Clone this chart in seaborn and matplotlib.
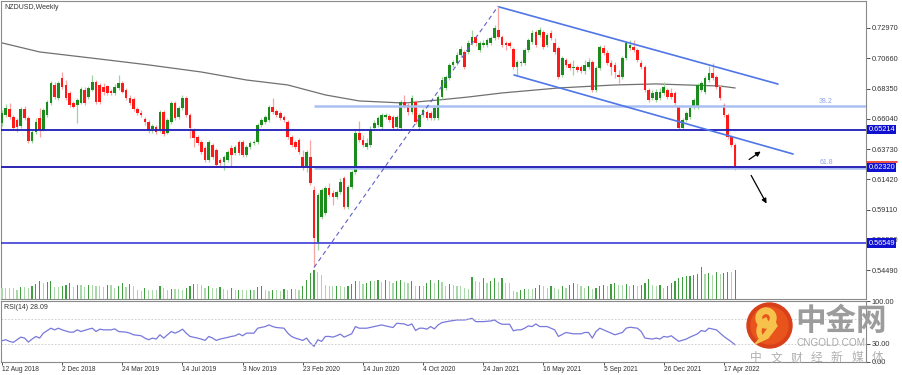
import matplotlib
matplotlib.use("Agg")
import matplotlib.pyplot as plt
import seaborn as sns
from matplotlib.patches import Circle, Wedge, Polygon

sns.set_style("white")
plt.rcParams["font.family"] = ["Liberation Sans", "Noto Sans CJK SC", "DejaVu Sans"]

TITLE = "NZDUSD,Weekly"
RSI_LABEL = "RSI(14) 28.09"

# weekly candles, first bar = week of 12 Aug 2018
opens = [
    .6572, .6633, .6679, .6618, .6595, .6549, .6679, .6610, .6434, .6503,
    .6610, .6518, .6633, .6724, .6862, .6763, .6915, .6862, .6801, .6724,
    .6709, .6724, .6824, .6770, .6824, .6885, .6862, .6847, .6854, .6816,
    .6801, .6839, .6877, .6824, .6763, .6755, .6679, .6648, .6602, .6579,
    .6526, .6541, .6518, .6656, .6495, .6579, .6724, .6618, .6686, .6763,
    .6633, .6518, .6465, .6427, .6381, .6289, .6404, .6366, .6289, .6274,
    .6289, .6381, .6343, .6427, .6427, .6327, .6389, .6419, .6427, .6556,
    .6579, .6595, .6694, .6663, .6648, .6618, .6579, .6465, .6427, .6442,
    .6312, .6236, .6312, .6059, .5663, .5854, .5885, .6075, .6037, .6007,
    .6045, .6152, .5930, .6083, .6198, .6495, .6442, .6389, .6404, .6534,
    .6556, .6541, .6618, .6625, .6618, .6541, .6534, .6732, .6709, .6656,
    .6732, .6541, .6633, .6656, .6648, .6610, .6610, .6770, .6839, .6915,
    .7015, .7030, .7091, .7114, .7114, .7183, .7228, .7129, .7167, .7167,
    .7183, .7221, .7282, .7228, .7183, .7183, .7137, .6999, .7030, .7030,
    .7129, .7190, .7267, .7244, .7267, .7167, .7259, .7183, .7145, .6938,
    .7053, .7022, .6992, .6999, .6999, .6969, .6999, .7038, .6824, .6992,
    .7145, .7106, .7030, .7015, .6938, .6923, .7068, .7145, .7152, .7129,
    .7030, .6999, .6824, .6763, .6747, .6763, .6801, .6824, .6801, .6801,
    .6694, .6534, .6595, .6618, .6694, .6694, .6824, .6808, .6900, .6954,
    .6923, .6847, .6709, .6633, .6465, .6404,
]
highs = [
    .6671, .6717, .6724, .6633, .6610, .6694, .6702, .6625, .6518, .6610,
    .6686, .6686, .6747, .6892, .6885, .6892, .6961, .6900, .6816, .6740,
    .6763, .6847, .6847, .6854, .6938, .6900, .6877, .6877, .6862, .6831,
    .6870, .6938, .6892, .6839, .6786, .6770, .6694, .6671, .6618, .6595,
    .6564, .6556, .6671, .6671, .6610, .6740, .6740, .6702, .6786, .6778,
    .6648, .6534, .6480, .6442, .6396, .6442, .6419, .6381, .6305, .6327,
    .6366, .6404, .6404, .6442, .6442, .6404, .6434, .6442, .6572, .6610,
    .6633, .6709, .6763, .6679, .6663, .6633, .6595, .6480, .6442, .6457,
    .6366, .6366, .6442, .6091, .6037, .6075, .6091, .6114, .6059, .6059,
    .6152, .6167, .6098, .6213, .6518, .6587, .6480, .6457, .6549, .6595,
    .6625, .6648, .6648, .6640, .6633, .6633, .6747, .6786, .6724, .6786,
    .6747, .6648, .6686, .6671, .6663, .6709, .6786, .6923, .6938, .7030,
    .7053, .7114, .7160, .7129, .7206, .7282, .7244, .7198, .7206, .7221,
    .7236, .7320, .7458, .7244, .7198, .7198, .7152, .7053, .7053, .7145,
    .7221, .7282, .7282, .7305, .7282, .7259, .7282, .7221, .7160, .7083,
    .7068, .7038, .7053, .7015, .7015, .7053, .7068, .7053, .7007, .7167,
    .7167, .7129, .7053, .7038, .6977, .7083, .7198, .7206, .7206, .7145,
    .7053, .7015, .6839, .6824, .6831, .6839, .6885, .6839, .6839, .6816,
    .6709, .6610, .6663, .6702, .6763, .6877, .6892, .6931, .7007, .7030,
    .6938, .6862, .6724, .6648, .6480, .6419,
]
lows = [
    .6549, .6618, .6602, .6518, .6503, .6534, .6595, .6419, .6419, .6488,
    .6465, .6511, .6618, .6709, .6755, .6747, .6831, .6747, .6694, .6686,
    .6572, .6717, .6709, .6755, .6816, .6717, .6717, .6786, .6786, .6786,
    .6786, .6824, .6801, .6747, .6709, .6663, .6633, .6618, .6556, .6495,
    .6495, .6488, .6503, .6472, .6488, .6564, .6595, .6602, .6671, .6618,
    .6457, .6389, .6404, .6335, .6274, .6274, .6297, .6243, .6243, .6213,
    .6274, .6236, .6327, .6327, .6312, .6312, .6373, .6404, .6411, .6541,
    .6564, .6579, .6640, .6618, .6595, .6579, .6450, .6389, .6373, .6335,
    .6213, .6198, .6098, .5472, .5602, .5839, .5869, .6007, .5946, .5991,
    .6030, .5915, .5915, .6068, .6182, .6427, .6389, .6373, .6389, .6518,
    .6541, .6526, .6602, .6579, .6518, .6526, .6518, .6686, .6633, .6640,
    .6564, .6526, .6618, .6595, .6595, .6595, .6595, .6755, .6824, .6900,
    .6999, .7015, .7076, .6984, .7099, .7167, .7160, .7114, .7152, .7152,
    .7167, .7206, .7213, .7152, .7129, .7145, .6984, .6938, .7007, .7015,
    .7114, .7175, .7152, .7228, .7137, .7152, .7206, .7099, .6908, .6923,
    .6999, .6977, .6938, .6961, .6954, .6946, .6984, .6808, .6808, .6977,
    .7091, .7015, .6938, .6915, .6877, .6908, .7053, .7129, .7114, .7038,
    .6984, .6808, .6732, .6747, .6732, .6747, .6786, .6755, .6755, .6709,
    .6526, .6526, .6579, .6602, .6679, .6679, .6808, .6793, .6885, .6900,
    .6831, .6747, .6618, .6450, .6389, .6213,
]
closes = [
    .6648, .6686, .6618, .6534, .6541, .6679, .6610, .6434, .6503, .6579,
    .6518, .6671, .6732, .6877, .6770, .6877, .6847, .6763, .6709, .6694,
    .6747, .6831, .6724, .6839, .6885, .6732, .6732, .6808, .6801, .6801,
    .6847, .6877, .6808, .6763, .6724, .6679, .6648, .6633, .6579, .6518,
    .6549, .6503, .6656, .6488, .6595, .6724, .6610, .6686, .6763, .6633,
    .6534, .6457, .6419, .6350, .6289, .6427, .6312, .6251, .6266, .6312,
    .6350, .6327, .6389, .6343, .6327, .6389, .6419, .6427, .6556, .6595,
    .6618, .6694, .6656, .6633, .6610, .6595, .6465, .6404, .6389, .6350,
    .6236, .6350, .6114, .5694, .6022, .6059, .6075, .6022, .6007, .6045,
    .6121, .5930, .6083, .6198, .6495, .6442, .6404, .6419, .6518, .6572,
    .6610, .6633, .6633, .6595, .6534, .6618, .6732, .6702, .6656, .6763,
    .6579, .6633, .6671, .6610, .6610, .6686, .6770, .6900, .6923, .7015,
    .7038, .7091, .7137, .6999, .7183, .7228, .7183, .7183, .7183, .7206,
    .7221, .7297, .7228, .7167, .7167, .7160, .6999, .7038, .7038, .7129,
    .7206, .7259, .7167, .7282, .7152, .7244, .7221, .7114, .6923, .7068,
    .7015, .6992, .6999, .6977, .6969, .7015, .7038, .6824, .6992, .7152,
    .7106, .7030, .6999, .6961, .6923, .7068, .7183, .7167, .7129, .7053,
    .6999, .6824, .6747, .6801, .6808, .6808, .6847, .6770, .6770, .6724,
    .6534, .6595, .6648, .6686, .6747, .6862, .6877, .6915, .6954, .6915,
    .6847, .6763, .6633, .6465, .6404, .6236,
]
volumes = [
    33,
    33, 33, 33, 28, 36, 36, 33, 38, 46, 55,
    48, 50, 55, 36, 36, 38, 43, 48, 36, 43,
    41, 36, 41, 41, 38, 38, 36, 41, 41, 33,
    38, 48, 36, 45, 40, 28, 23, 33, 28, 28,
    28, 38, 33, 28, 30, 30, 30, 28, 33, 38,
    46, 44, 42, 33, 38, 33, 33, 36, 30, 28,
    33, 26, 28, 26, 26, 28, 28, 36, 38, 28,
    25, 28, 28, 23, 30, 26, 30, 30, 28, 38,
    58, 78, 88, 80, 72,
    43, 40, 38, 40, 38, 36, 40, 46, 53, 53, 46, 48, 53, 53, 58, 50, 58,
    53, 48, 53, 58, 50, 48, 53, 38, 40, 38, 48, 58, 48, 58, 50, 38,
    45,
    43, 40, 40, 33, 30, 66, 53, 50, 62, 48,
    53, 62, 50, 62, 48, 48, 23, 20, 26, 30,
    30, 30, 33, 43, 38, 33, 38, 33, 30, 38,
    33, 43, 48, 46, 40, 33, 38, 30, 33, 38,
    43, 40, 46, 48, 43, 43, 46, 40, 43, 38,
    43, 48, 60, 43, 40, 43, 33, 38, 48, 53,
    62, 65, 68, 70, 72, 75, 95, 75, 78, 72,
    80, 75, 78, 82, 80, 86,
]

# long moving average (read at a few bars)
ma_idx = [0, 10, 26, 39, 53, 65, 76, 86, 95, 107, 116, 124, 133, 148, 163, 174, 182, 191, 195]
ma_val = [.7183, .7114, .7060, .7015, .6961, .6900, .6862, .6786, .6740, .6724,
          .6747, .6770, .6801, .6839, .6862, .6870, .6862, .6854, .6839]

rsi_idx = [
    0, 1, 2, 3, 5, 6, 7, 8, 9, 10,
    11, 13, 14, 15, 16, 18, 19, 20, 21, 23,
    24, 25, 26, 27, 29, 30, 31, 33, 34, 35,
    37, 38, 39, 40, 41, 42, 43, 44, 45, 46,
    47, 48, 49, 50, 52, 53, 54, 55, 56, 57,
    58, 60, 61, 62, 63, 64, 65, 67, 68, 70,
    71, 72, 73, 75, 76, 77, 78, 80, 81, 82,
    83, 84, 85, 86, 87, 88, 89, 90, 91, 93,
    94, 95, 97, 99, 101, 102, 104, 105, 107, 108,
    109, 110, 111, 112, 113, 114, 115, 116, 117, 119,
    121, 123, 124, 125, 126, 128, 130, 131, 132, 133,
    135, 136, 137, 138, 139, 140, 141, 142, 143, 145,
    146, 147, 148, 150, 151, 152, 154, 155, 156, 157,
    158, 159, 161, 162, 163, 165, 166, 167, 169, 170,
    171, 173, 174, 175, 176, 177, 178, 180, 182, 183,
    185, 186, 187, 188, 190, 191, 192, 194, 195,
]
rsi_val = [
    34.9, 36.5, 33.8, 32.2, 40.8, 39.2, 32.7, 37.6, 41.9, 39.2,
    47.3, 55.4, 52.7, 55.4, 52.7, 48.9, 48.9, 52.7, 50.0, 53.8,
    55.4, 50.0, 53.8, 52.7, 52.7, 54.3, 50.0, 48.9, 47.3, 44.6,
    43.0, 39.2, 36.5, 39.2, 37.6, 44.6, 39.2, 44.6, 50.0, 47.3,
    50.0, 53.8, 47.3, 41.9, 39.2, 37.6, 35.4, 41.9, 39.2, 35.4,
    37.6, 40.3, 41.9, 43.0, 46.2, 43.0, 47.3, 47.3, 55.4, 58.1,
    60.8, 58.1, 56.5, 55.4, 47.3, 41.9, 39.2, 35.4, 39.2, 31.1,
    25.7, 36.5, 33.8, 41.9, 41.9, 40.8, 43.0, 45.7, 40.8, 46.2,
    58.1, 55.4, 55.4, 58.1, 60.8, 59.2, 56.5, 63.5, 62.4, 59.7,
    62.4, 51.6, 55.4, 55.4, 53.8, 58.1, 54.3, 60.8, 64.6, 67.0,
    68.9, 68.9, 70.0, 71.6, 66.2, 66.2, 67.3, 68.9, 64.6, 61.9,
    61.9, 51.1, 52.7, 52.7, 55.4, 59.2, 58.1, 62.4, 58.1, 58.1,
    55.4, 52.7, 41.9, 48.4, 47.3, 46.2, 46.2, 48.4, 48.4, 39.2,
    50.0, 55.4, 50.0, 47.3, 44.6, 48.4, 55.4, 57.0, 55.4, 50.0,
    39.2, 37.6, 39.2, 37.6, 41.9, 40.8, 43.0, 33.8, 37.6, 40.8,
    46.2, 51.6, 50.0, 55.4, 52.7, 47.3, 41.9, 33.0, 28.1,
]

date_idx = [0, 16, 32, 48, 64, 80, 96, 112, 128, 144, 160, 176, 192]
date_labels = ["12 Aug 2018", "2 Dec 2018", "24 Mar 2019", "14 Jul 2019", "3 Nov 2019",
               "23 Feb 2020", "14 Jun 2020", "4 Oct 2020", "24 Jan 2021", "16 May 2021",
               "5 Sep 2021", "26 Dec 2021", "17 Apr 2022"]

price_ticks = [0.72970, 0.70660, 0.68350, 0.66040, 0.63730, 0.61420, 0.59110, 0.56800, 0.54490]
levels = [0.65214, 0.62320, 0.56549]

# fibonacci swing (Mar 2020 low -> Feb 2021 high)
fib_low_idx, fib_low = 83, 0.5469
fib_high_idx, fib_high = 132, 0.7465
fib_ratios = [0.382, 0.618]
fib_names = ["38.2", "61.8"]

# falling channel
chan_up_x, chan_up_y = [132.2, 206.4], [0.7458, 0.6869]
chan_lo_x, chan_lo_y = [136.2, 210.4], [0.6938, 0.6335]

# hand-drawn arrows (start, end)
arrows = [((198.1, 0.6281), (202.4, 0.6366)), ((198.9, 0.6190), (203.7, 0.5938))]

W, H = 903, 375
XLIM = (-0.27, 229.8)

fig = plt.figure(figsize=(W / 100, H / 100), dpi=100)
ax = fig.add_axes([1 / W, (H - 299) / H, 865 / W, 298 / H])
ax_r = fig.add_axes([1 / W, (H - 362) / H, 865 / W, 61 / H])

x = list(range(len(closes)))
up = [c >= o for o, c in zip(opens, closes)]

# volume in the bottom of the price panel
ax_v = ax.twinx()
vol_col = ["#3f9f3f" if i > 0 and volumes[i] > volumes[i - 1] else "#a9d9a9" for i in x]
ax_v.bar(x, volumes, width=0.32, color=vol_col, linewidth=0)
ax_v.set_ylim(0, 298 * 3)
ax_v.set_yticks([])
for s in ax_v.spines.values():
    s.set_visible(False)

# candles
wick_col = ["#9fd49f" if u else "#f7a6a6" for u in up]
body_col = ["#1b8c1b" if u else "#ff1a1a" for u in up]
ax.vlines(x, lows, highs, colors=wick_col, linewidth=0.9, zorder=3)
bottoms = [min(o, c) for o, c in zip(opens, closes)]
heights = [max(abs(c - o), 0.0004) for o, c in zip(opens, closes)]
ax.bar(x, heights, bottom=bottoms, width=0.7, color=body_col, linewidth=0, zorder=4)

sns.lineplot(x=ma_idx, y=ma_val, ax=ax, color="#707070", linewidth=0.9, zorder=2)

# levels
ax.axhline(levels[0], color="#1c1cb8", linewidth=1.3, zorder=5)
ax.axhline(levels[1] + 0.0004, color="#f2a0a0", linewidth=1.2, zorder=5)
ax.axhline(levels[1], color="#1c1cb8", linewidth=1.3, zorder=5)
ax.axhline(levels[2], color="#2b2bd4", linewidth=1.1, zorder=5)

for r, name in zip(fib_ratios, fib_names):
    lvl = fib_high - r * (fib_high - fib_low)
    ax.hlines(lvl, fib_low_idx, XLIM[1], color="#aabff2", linewidth=1.8, zorder=4.5)
    ax.text(221, lvl + 0.0009, name, color="#8ba3e8", fontsize=5, ha="right", va="bottom")

ax.plot([fib_low_idx, fib_high_idx], [fib_low, fib_high], color="#6060c8",
        linewidth=0.8, linestyle=(0, (4, 3)), zorder=5)
ax.plot(chan_up_x, chan_up_y, color="#4f76e6", linewidth=1.2, zorder=5)
ax.plot(chan_lo_x, chan_lo_y, color="#4f76e6", linewidth=1.2, zorder=5)
for start, end in arrows:
    ax.annotate("", xy=end, xytext=start,
                arrowprops=dict(arrowstyle="-|>", color="black", lw=0.9, mutation_scale=7))

ax.set_xlim(XLIM)
ax.set_ylim(0.5228, 0.7503)
ax.set_xticks([])
ax.set_yticks(price_ticks)
ax.set_yticklabels([f"{t:.5f}" for t in price_ticks])
ax.yaxis.tick_right()
ax.tick_params(axis="y", right=True, left=False, labelright=True, labelleft=False,
               length=3, width=0.6, pad=1, labelsize=5.3, colors="#333333")
ax.set_xlabel("")
ax.set_ylabel("")
for s in ax.spines.values():
    s.set_color("#8a8a8a")
    s.set_linewidth(0.8)

for lvl in levels:
    ax.text(1.0028, lvl, f"{lvl:.5f}", transform=ax.get_yaxis_transform(), fontsize=5.3,
            color="white", ha="left", va="center", clip_on=False, zorder=10,
            bbox=dict(boxstyle="square,pad=0.18", fc="#1010d0", ec="none"))
ax.plot([1.001, 1.036], [0.6277, 0.6277], transform=ax.get_yaxis_transform(),
        color="#e83020", linewidth=1.2, clip_on=False, zorder=11)

ax.text(0.004, 0.99, TITLE, transform=ax.transAxes, fontsize=5.0, color="#333333",
        ha="left", va="top")

# RSI panel
sns.lineplot(x=rsi_idx, y=rsi_val, ax=ax_r, color="#7878dc", linewidth=0.9)
ax_r.axhline(70, color="#c8c8c8", linewidth=0.6, linestyle=(0, (2, 2)))
ax_r.axhline(30, color="#c8c8c8", linewidth=0.6, linestyle=(0, (2, 2)))
ax_r.set_xlim(XLIM)
ax_r.set_ylim(0, 100)
ax_r.set_yticks([100, 30, 0])
ax_r.set_yticklabels(["100.00", "30.00", "0.00"])
ax_r.yaxis.tick_right()
ax_r.set_xticks(date_idx)
ax_r.set_xticklabels(date_labels, ha="left")
ax_r.tick_params(axis="y", right=True, left=False, length=3, width=0.6, pad=1,
                 labelsize=5.3, colors="#333333")
ax_r.tick_params(axis="x", bottom=True, length=2, width=0.6, pad=1.2,
                 labelsize=4.8, colors="#333333")
ax_r.set_xlabel("")
ax_r.set_ylabel("")
for s in ax_r.spines.values():
    s.set_color("#8a8a8a")
    s.set_linewidth(0.8)
ax_r.text(0.004, 0.95, RSI_LABEL, transform=ax_r.transAxes, fontsize=5.0, color="#333333",
          ha="left", va="top")

# watermark
ov = fig.add_axes([0, 0, 1, 1], zorder=20)
ov.set_xlim(0, W)
ov.set_ylim(H, 0)
ov.axis("off")
ov.patch.set_alpha(0)
ov.add_patch(Circle((769.5, 325.5), 22.5, color="#d8401a", zorder=1))
ov.add_patch(Circle((769.5, 325.5), 18.5, color="#e8541c", zorder=1))
ov.add_patch(Wedge((766, 318), 10, 0, 360, width=5.5, color="#f7c24c", zorder=2))
ov.add_patch(Polygon([(774, 320), (777, 326), (768, 338), (755, 344), (764, 334)],
                     closed=True, color="#f7c24c", zorder=2))
ov.add_patch(Wedge((771, 331), 14, 150, 250, width=4, color="#f7c24c", zorder=2))
ov.text(841, 321, "中金网", fontsize=22, color="#9c9c9c", ha="center", va="center",
        family=["Noto Sans CJK SC"], fontweight="bold")
ov.text(831, 343.5, "CNGOLD.COM", fontsize=7.2, color="#a8a8a8", ha="center", va="center")
for k, ch in enumerate("中文财经新媒体"):
    ov.text(756 + 20.2 * k, 358, ch, fontsize=8.5, color="#b0b0b0", ha="center",
            va="center", family=["Noto Sans CJK SC"])

fig.savefig("out.png", dpi=100)
